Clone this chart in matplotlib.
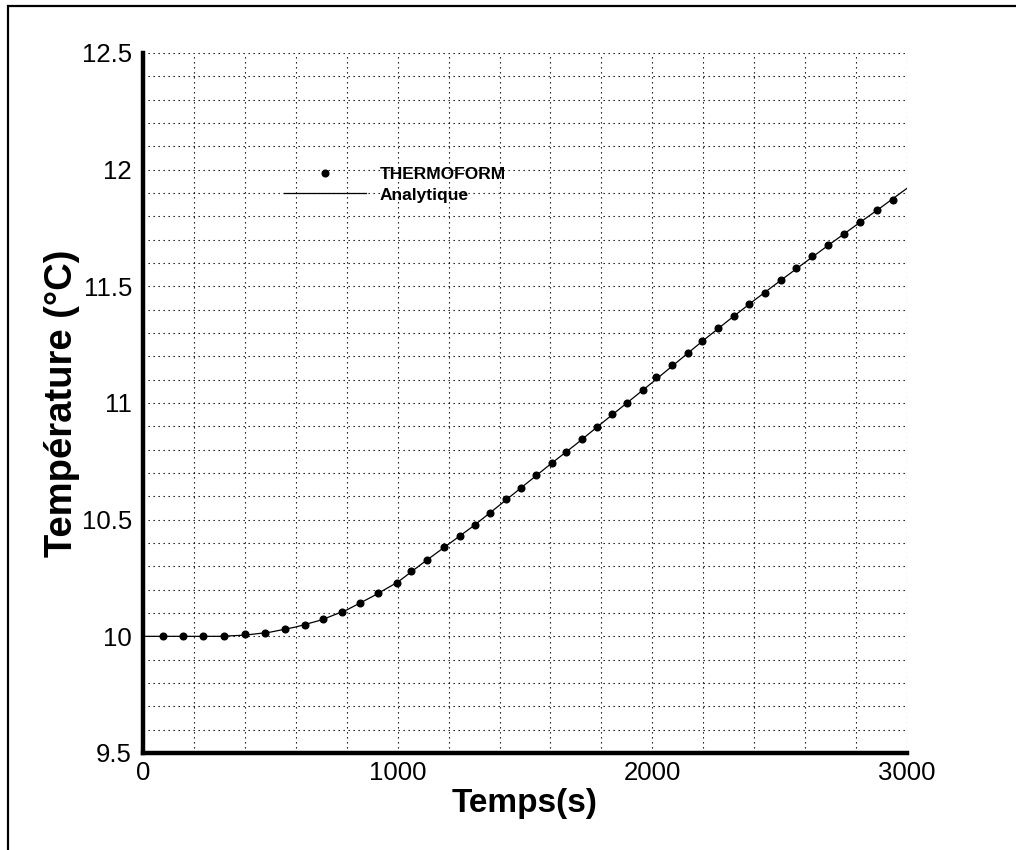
import matplotlib
matplotlib.use("Agg")
import matplotlib.pyplot as plt
from matplotlib.patches import Rectangle
from matplotlib.ticker import MultipleLocator, FormatStrFormatter

plt.rcParams['font.family'] = ['Liberation Sans', 'DejaVu Sans']

# THERMOFORM results (symbols)
t_num = [80, 158, 237, 318, 401, 479, 558, 636, 708, 783, 852, 924, 996,
         1054, 1117, 1183, 1246, 1303, 1363, 1426, 1486, 1542, 1605, 1661,
         1723, 1783, 1842, 1900, 1962, 2015, 2079, 2139, 2195, 2258, 2320,
         2381, 2444, 2505, 2566, 2628, 2691, 2754, 2815, 2881, 2944]
T_num = [10.00, 10.00, 10.00, 10.00, 10.01, 10.016, 10.03, 10.05, 10.073,
         10.106, 10.142, 10.187, 10.23, 10.279, 10.328, 10.382, 10.429,
         10.477, 10.527, 10.587, 10.637, 10.693, 10.742, 10.791, 10.847,
         10.898, 10.952, 10.999, 11.056, 11.11, 11.162, 11.214, 11.264,
         11.32, 11.372, 11.424, 11.473, 11.526, 11.577, 11.63, 11.677,
         11.724, 11.774, 11.827, 11.872]

# analytical solution (line)
t_ana = [0, 100, 200, 300, 400, 500, 600, 700, 800, 900, 1000, 1100, 1200,
         1300, 1400, 1500, 1600, 1700, 1800, 1900, 2000, 2100, 2200, 2300,
         2400, 2500, 2600, 2700, 2800, 2900, 3000]
T_ana = [10.000, 10.000, 10.000, 10.000, 10.005, 10.018, 10.040, 10.070,
         10.113, 10.170, 10.232, 10.315, 10.395, 10.475, 10.562, 10.650,
         10.738, 10.823, 10.912, 11.000, 11.088, 11.178, 11.268, 11.355,
         11.440, 11.522, 11.603, 11.683, 11.762, 11.840, 11.920]

W, H = 1016, 850
fig = plt.figure(figsize=(W / 100, H / 100), dpi=100)
ax = fig.add_axes([143 / W, 1 - 753 / H, (907 - 143) / W, (753 - 53) / H])

ax.plot(t_num, T_num, ls='none', marker='o', ms=4.8, color='black',
        label='THERMOFORM', zorder=4)
ax.plot(t_ana, T_ana, color='black', lw=0.9, label='Analytique', zorder=3)

ax.set_xlim(0, 3000)
ax.set_ylim(9.5, 12.5)
ax.xaxis.set_major_locator(MultipleLocator(1000))
ax.xaxis.set_minor_locator(MultipleLocator(200))
ax.yaxis.set_major_locator(MultipleLocator(0.5))
ax.yaxis.set_minor_locator(MultipleLocator(0.1))
ax.yaxis.set_major_formatter(FormatStrFormatter('%g'))
ax.grid(which='both', color='black', lw=0.8, ls=(0, (1.2, 3.3)))
ax.set_axisbelow(True)

for s in ['top', 'right']:
    ax.spines[s].set_visible(False)
for s in ['left', 'bottom']:
    ax.spines[s].set_linewidth(3.2)
ax.tick_params(which='both', length=0, labelsize=18.5, pad=8)
ax.tick_params(axis='x', pad=6)

ax.set_xlabel('Temps(s)', fontsize=24, fontweight='bold', labelpad=2)
ax.set_ylabel('Température (°C)', fontsize=27.5, fontweight='bold', labelpad=1)

leg = ax.legend(loc='upper left', bbox_to_anchor=(284 / W, 1 - 167 / H),
                bbox_transform=fig.transFigure, frameon=False, numpoints=1,
                handlelength=4.7, handletextpad=0.8, labelspacing=0.3,
                borderpad=0, borderaxespad=0,
                prop={'size': 12.5, 'weight': 'bold'})

# outer frame
fig.patches.append(Rectangle((8 / W, -0.1), 1.2, 1.1 - 6 / H,
                             transform=fig.transFigure, fill=False,
                             ec='black', lw=1.6))

fig.savefig('out.png', dpi=100)
